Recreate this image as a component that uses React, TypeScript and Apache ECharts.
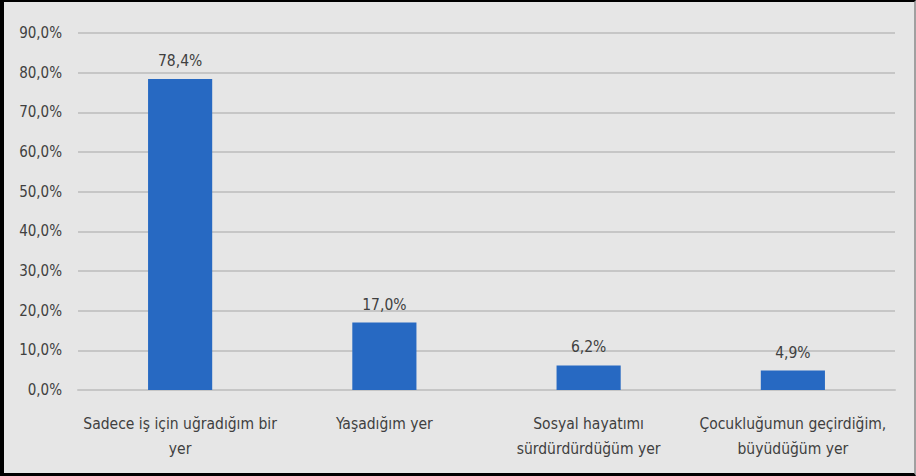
import React, { useEffect, useRef } from "react";
import * as echarts from "echarts";

const categories = [
  "Sadece iş için uğradığım bir\nyer",
  "Yaşadığım yer",
  "Sosyal hayatımı\nsürdürdürdüğüm yer",
  "Çocukluğumun geçirdiğim,\nbüyüdüğüm yer",
];
const values = [78.4, 17.0, 6.2, 4.9];
const yMin = 0;
const yMax = 90;
const yInterval = 10;

const FONT = "'DejaVu Sans Condensed', sans-serif";
const fmt = (v: number) => v.toFixed(1).replace(".", ",") + "%";

export default function App() {
  const ref = useRef<HTMLDivElement>(null);
  useEffect(() => {
    if (!ref.current) return;
    const chart = echarts.init(ref.current, undefined, { renderer: "svg" });
    chart.setOption({
      animation: false,
      backgroundColor: "#E6E6E6",
      grid: { left: 78, right: 21, top: 33, bottom: 86 },
      xAxis: {
        type: "category",
        data: categories,
        axisLine: { show: true, lineStyle: { color: "#C6C6C6", width: 2 } },
        axisTick: { show: false },
        axisLabel: {
          color: "#404040",
          fontFamily: FONT,
          fontSize: 15.5,
          lineHeight: 25,
          margin: 21,
          interval: 0,
        },
      },
      yAxis: {
        type: "value",
        min: yMin,
        max: yMax,
        interval: yInterval,
        axisLine: { show: false },
        axisTick: { show: false },
        splitLine: { lineStyle: { color: "#C6C6C6", width: 2 } },
        axisLabel: {
          color: "#404040",
          fontFamily: FONT,
          fontSize: 15,
          margin: 16,
          formatter: (v: number) => fmt(v),
        },
      },
      series: [
        {
          type: "bar",
          data: values,
          barWidth: "31.4%",
          itemStyle: { color: "#2769C2" },
          label: {
            show: true,
            position: "top",
            distance: 10,
            color: "#404040",
            fontFamily: FONT,
            fontSize: 15.5,
            formatter: (p: any) => fmt(p.value),
          },
        },
      ],
    });
    return () => chart.dispose();
  }, []);
  return (
    <div style={{ position: "fixed", left: 0, top: 0, width: 916, height: 476 }}>
      <div ref={ref} style={{ position: "absolute", left: 0, top: 0, width: 916, height: 476 }} />
      <div
        style={{
          position: "absolute",
          left: 0,
          top: 0,
          width: 916,
          height: 476,
          boxSizing: "border-box",
          borderTop: "2px solid #000",
          borderLeft: "4px solid #000",
          borderBottom: "3px solid #000",
          borderRight: "2px solid #A0A0A0",
          pointerEvents: "none",
        }}
      />
    </div>
  );
}
